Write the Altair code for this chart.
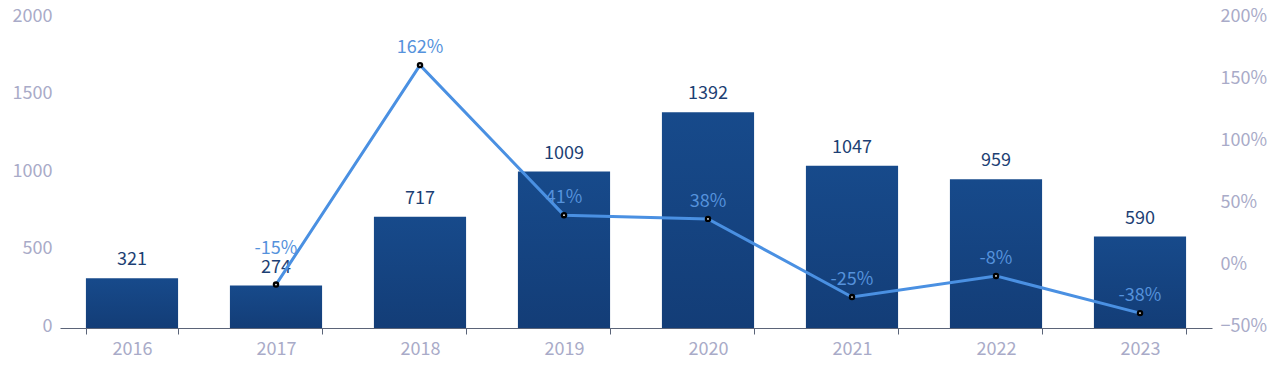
import altair as alt
import pandas as pd

years = ["2016", "2017", "2018", "2019", "2020", "2021", "2022", "2023"]
counts = [321, 274, 717, 1009, 1392, 1047, 959, 590]
growth_pct = [None, -15, 162, 41, 38, -25, -8, -38]

df = pd.DataFrame({
    "year": years,
    "count": counts,
    "growth": [None if g is None else g / 100 for g in growth_pct],
    "growth_label": ["" if g is None else f"{g}%" for g in growth_pct],
})

FONT = "Noto Sans CJK SC"
AXIS_LABEL = "#a9abc8"

x_enc = alt.X(
    "year:N",
    title=None,
    sort=years,
    scale=alt.Scale(paddingInner=0.36, paddingOuter=0.18),
    axis=alt.Axis(
        labelAngle=0, labelFontSize=18, labelColor=AXIS_LABEL, labelFont=FONT,
        labelPadding=6, tickBand="extent", ticks=True, tickSize=6,
        tickColor="#5b6478", domainColor="#5b6478", domainWidth=1.2, grid=False,
    ),
)

y_left = alt.Y(
    "count:Q", title=None,
    scale=alt.Scale(domain=[0, 2000], nice=False),
    axis=alt.Axis(values=[0, 500, 1000, 1500, 2000], format="d", grid=False, domain=False, ticks=False,
                  labelFontSize=18, labelColor=AXIS_LABEL, labelFont=FONT,
                  labelPadding=8, labelOffset=-2),
)

y_right = alt.Y(
    "growth:Q", title=None,
    scale=alt.Scale(domain=[-0.5, 2.0], nice=False),
    axis=alt.Axis(orient="right", values=[-0.5, 0, 0.5, 1.0, 1.5, 2.0], format=".0%",
                  grid=False, domain=False, ticks=False,
                  labelFontSize=18, labelColor=AXIS_LABEL, labelFont=FONT,
                  labelPadding=8, labelOffset=-2),
)

base = alt.Chart(df)

bars = base.mark_bar(
    color=alt.Gradient(
        gradient="linear", x1=0, y1=0, x2=0, y2=1,
        stops=[alt.GradientStop(color="#174a8b", offset=0),
               alt.GradientStop(color="#133d77", offset=1)],
    )
).encode(x=x_enc, y=y_left)

bar_text = base.mark_text(
    dy=-18, fontSize=18, color="#1d3f74", font=FONT, baseline="middle"
).encode(x=x_enc, y=y_left, text="count:Q")

left_layer = alt.layer(bars, bar_text)

line_base = base.transform_filter("datum.growth != null")

line = line_base.mark_line(color="#4a90e2", strokeWidth=3).encode(x=x_enc, y=y_right)
points = line_base.mark_point(filled=True, color="black", size=42, opacity=1).encode(x=x_enc, y=y_right)
point_centers = line_base.mark_point(filled=True, color="white", size=3, opacity=1).encode(x=x_enc, y=y_right)

pct_text = line_base.transform_filter("datum.year != '2017'").mark_text(
    dy=-17, fontSize=18, color="#5592dc", font=FONT, baseline="middle"
).encode(x=x_enc, y=y_right, text="growth_label:N")

pct_text_2017 = line_base.transform_filter("datum.year == '2017'").mark_text(
    dy=-36, fontSize=18, color="#5592dc", font=FONT, baseline="middle"
).encode(x=x_enc, y=y_right, text="growth_label:N")

right_layer = alt.layer(line, points, point_centers, pct_text, pct_text_2017)

chart = alt.layer(left_layer, right_layer).resolve_scale(y="independent").properties(
    width=1152, height=310,
    padding={"left": 52, "top": 10, "right": 60, "bottom": 40},
    autosize=alt.AutoSizeParams(type="none"),
).configure(font=FONT).configure_view(strokeWidth=0, strokeOpacity=0)

chart.save("out.html", embed_options={"renderer": "svg", "actions": False})
